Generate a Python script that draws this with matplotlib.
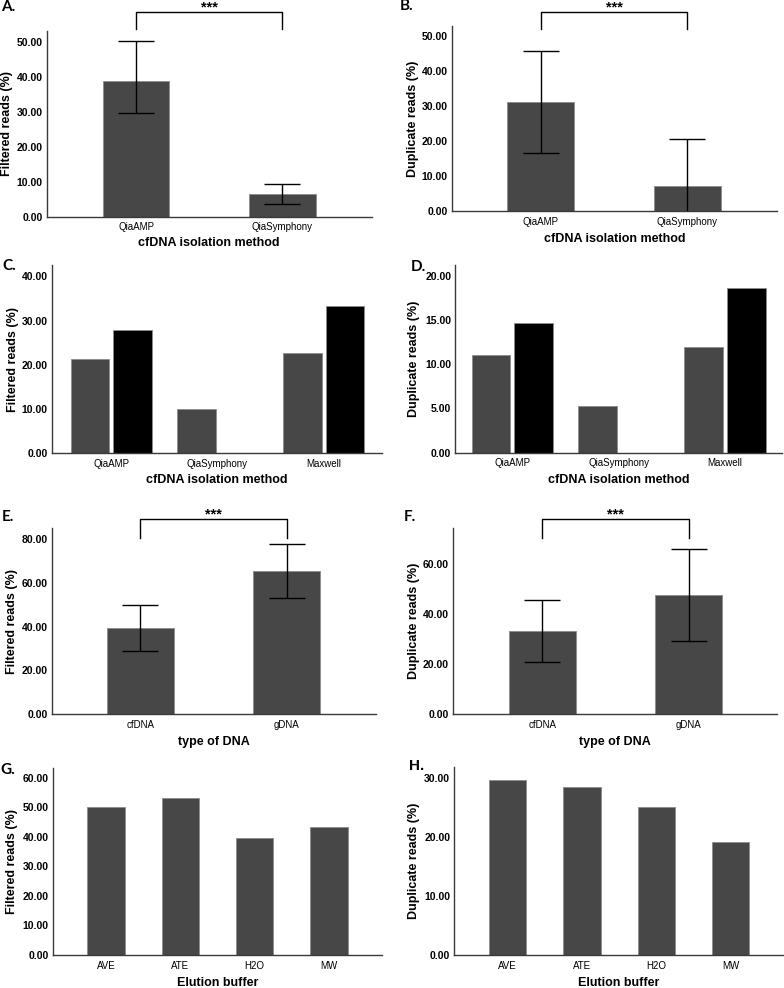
"""Eight-panel bar figure: filtered / duplicate reads by isolation method, DNA type, elution buffer."""
import numpy as np
import matplotlib

matplotlib.use("Agg")
import matplotlib.pyplot as plt  # noqa: E402
from matplotlib.transforms import blended_transform_factory  # noqa: E402

plt.rcParams["font.family"] = ["Liberation Sans", "DejaVu Sans"]

W, H = 784, 988
GREY = "#474747"
EDGE = "#8c8c8c"
AXC = "#3a3a3a"

# ---- data -------------------------------------------------------------------
method2 = ["QiaAMP", "QiaSymphony"]
a_mean = [38.6, 6.6]
a_hi = [50.2, 9.4]
a_lo = [29.6, 3.5]

b_mean = [31.2, 7.3]
b_hi = [45.9, 20.7]
b_lo = [16.5, -6.0]

method3 = ["QiaAMP", "QiaSymphony", "Maxwell"]
c_grey = [21.4, 10.0, 22.7]
c_black = [27.8, 0.0, 33.3]
d_grey = [11.0, 5.3, 11.9]
d_black = [14.6, 0.0, 18.6]

dna = ["cfDNA", "gDNA"]
e_mean = [39.4, 65.6]
e_hi = [49.8, 77.9]
e_lo = [29.0, 53.3]
f_mean = [33.4, 47.7]
f_hi = [45.8, 66.0]
f_lo = [20.7, 29.4]

buffers = ["AVE", "ATE", "H2O", "MW"]
g_vals = [50.2, 53.0, 39.5, 43.2]
h_vals = [29.7, 28.5, 25.0, 19.2]

fig = plt.figure(figsize=(W / 100, H / 100), dpi=100)
fig.patch.set_facecolor("white")


def px_axes(x0, y0, x1, y1):
    """Axes from pixel box (left, top, right, bottom)."""
    return fig.add_axes([x0 / W, 1 - y1 / H, (x1 - x0) / W, (y1 - y0) / H])


def style(ax, ytop, step, xlim, cats, xlabel, ylabel, ylab_x, xlab_y):
    ax.set_ylim(0, ytop)
    ax.set_yticks(np.arange(0, ytop + 1e-6, step))
    ax.set_yticklabels([f"{v:.2f}" for v in ax.get_yticks()],
                       fontsize=7.5, fontweight="bold")
    ax.set_xlim(*xlim)
    ax.set_xticks(range(len(cats)))
    ax.set_xticklabels(cats, fontsize=7)
    ax.tick_params(length=0, pad=4)
    ax.tick_params(axis="y", pad=3)
    ax.spines[["top", "right"]].set_visible(False)
    for s in ("left", "bottom"):
        ax.spines[s].set_color(AXC)
        ax.spines[s].set_linewidth(1.0)
    bb = ax.get_position()
    ax.set_ylabel(ylabel, fontsize=9, fontweight="bold", va="center")
    ax.yaxis.set_label_coords(ylab_x / W, (bb.y0 + bb.y1) / 2, transform=fig.transFigure)
    fig.text((bb.x0 + bb.x1) / 2, 1 - xlab_y / H, xlabel, ha="center", va="center",
             fontsize=9, fontweight="bold")


def bars_err(ax, mean, hi, lo):
    x = np.arange(len(mean))
    ax.bar(x, mean, 0.456, color=GREY, edgecolor=EDGE, linewidth=0.6, zorder=2)
    yerr = [np.array(mean) - np.array(lo), np.array(hi) - np.array(mean)]
    ax.errorbar(x, mean, yerr=yerr, fmt="none", ecolor="black", elinewidth=1.0,
                capsize=12.7, capthick=1.0, zorder=3)


def bracket(ax, x0, x1, y_top, y_leg):
    tr = blended_transform_factory(ax.transData, ax.transAxes)
    ax.plot([x0, x0, x1, x1], [y_leg, y_top, y_top, y_leg], color="black",
            lw=1.0, transform=tr, clip_on=False)
    ax.text((x0 + x1) / 2, y_top + 0.004, "***", ha="center", va="baseline",
            fontsize=10.5, fontweight="bold", transform=tr)


def letter(x, y, s, fam="Lato"):
    fig.text(x / W, 1 - y / H, s, ha="left", va="center", fontsize=11,
             fontweight="bold", family=[fam, "DejaVu Sans"])


# ---- A ------------------------------------------------------------------------
ax = px_axes(46.7, 31, 371.7, 216.7)
bars_err(ax, a_mean, a_hi, a_lo)
style(ax, 53, 10, (-0.61, 1.61), method2, "cfDNA isolation method",
      "Filtered reads (%)", 7.5, 243)
bracket(ax, 0, 1, 1.102, 1.011)
letter(1, 7, "A.")

# ---- B ------------------------------------------------------------------------
ax = px_axes(452, 26, 777, 211)
bars_err(ax, b_mean, b_hi, b_lo)
style(ax, 53, 10, (-0.605, 1.61), method2, "cfDNA isolation method",
      "Duplicate reads (%)", 412.7, 239)
bracket(ax, 0, 1, 1.077, 0.982)
letter(400, 6, "B.")

# ---- C ------------------------------------------------------------------------
ax = px_axes(51.7, 265, 381.7, 453.3)
x = np.arange(len(method3))
ax.bar(x - 0.199, c_grey, 0.364, color=GREY, edgecolor=EDGE, linewidth=0.6, zorder=2)
ax.bar(x + 0.199, c_black, 0.364, color="black", edgecolor=EDGE, linewidth=0.6, zorder=2)
style(ax, 42.6, 10, (-0.558, 2.545), method3, "cfDNA isolation method",
      "Filtered reads (%)", 12.7, 480)
letter(2, 266, "C.")

# ---- D ------------------------------------------------------------------------
ax = px_axes(455.3, 265, 782, 452.7)
ax.bar(x - 0.199, d_grey, 0.364, color=GREY, edgecolor=EDGE, linewidth=0.6, zorder=2)
ax.bar(x + 0.199, d_black, 0.364, color="black", edgecolor=EDGE, linewidth=0.6, zorder=2)
style(ax, 21.2, 5, (-0.536, 2.536), method3, "cfDNA isolation method",
      "Duplicate reads (%)", 413.7, 480)
letter(411, 267, "D.")

# ---- E ------------------------------------------------------------------------
ax = px_axes(51.7, 528.3, 375.7, 714)
bars_err(ax, e_mean, e_hi, e_lo)
style(ax, 85, 20, (-0.606, 1.608), dna, "type of DNA",
      "Filtered reads (%)", 12, 741.7)
bracket(ax, 0, 1, 1.048, 0.949)
letter(2, 517, "E.")

# ---- F ------------------------------------------------------------------------
ax = px_axes(453, 528.3, 777, 714)
bars_err(ax, f_mean, f_hi, f_lo)
style(ax, 74.4, 20, (-0.61, 1.605), dna, "type of DNA",
      "Duplicate reads (%)", 414, 741.7)
bracket(ax, 0, 1, 1.048, 0.949)
letter(404, 517, "F.")

# ---- G ------------------------------------------------------------------------
ax = px_axes(52.7, 767.7, 381.7, 955)
ax.bar(np.arange(len(buffers)), g_vals, 0.5, color=GREY, edgecolor=EDGE,
       linewidth=0.6, zorder=2)
style(ax, 63.4, 10, (-0.717, 3.708), buffers, "Elution buffer",
      "Filtered reads (%)", 12, 983)
letter(0, 770, "G.")

# ---- H ------------------------------------------------------------------------
ax = px_axes(454.3, 766.7, 784, 955)
ax.bar(np.arange(len(buffers)), h_vals, 0.5, color=GREY, edgecolor=EDGE,
       linewidth=0.6, zorder=2)
style(ax, 31.9, 10, (-0.717, 3.717), buffers, "Elution buffer",
      "Duplicate reads (%)", 414, 983)
letter(409, 766, "H.", fam="Liberation Sans")

fig.savefig("out.png", dpi=100, facecolor="white")
